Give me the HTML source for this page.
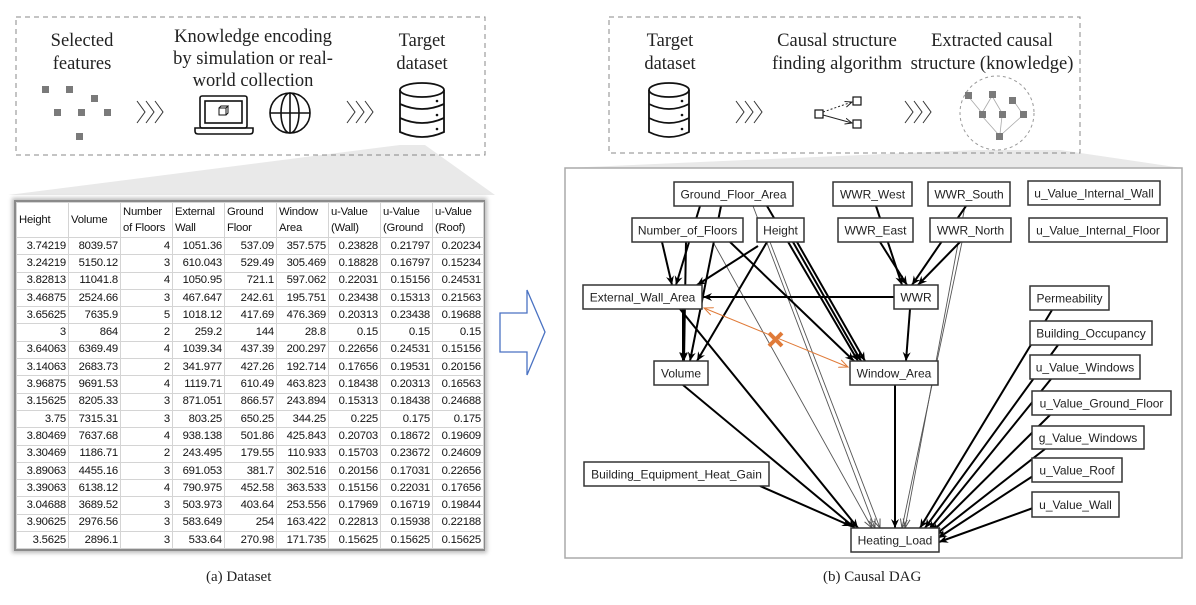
<!DOCTYPE html>
<html><head><meta charset="utf-8"><style>
body{margin:0;background:#fff;width:1196px;height:605px;overflow:hidden;position:relative;font-family:"Liberation Sans",sans-serif}
svg{position:absolute;left:0;top:0}
.tbl{position:absolute;left:14px;top:200px;width:467px;border:2px solid #8a8a8a;box-shadow:0 0 4px 2px #bbb;background:#fff}
table{border-collapse:collapse;table-layout:fixed;width:467px;font-family:"Liberation Sans",sans-serif;font-size:11.3px;color:#111}
td{border:1px solid #d4d4d4;height:16.3px;padding:0 2px;text-align:right;white-space:nowrap;overflow:hidden;line-height:15px;letter-spacing:-0.2px}
tr.h td{height:34px;text-align:left;vertical-align:middle;line-height:16px;white-space:normal;word-break:normal}
.cap{position:absolute;font-family:"Liberation Serif",serif;font-size:15px;color:#222}
</style></head><body>
<svg width="1196" height="605" viewBox="0 0 1196 605" xmlns="http://www.w3.org/2000/svg">
<defs>
<marker id="a" markerWidth="10" markerHeight="10" refX="9" refY="5" orient="auto" markerUnits="userSpaceOnUse"><path d="M0,1 L9,5 L0,9 L3,5 Z" fill="#000"/></marker>
<marker id="g" markerWidth="10" markerHeight="10" refX="9" refY="5" orient="auto" markerUnits="userSpaceOnUse"><path d="M0,1.5 L9,5 L0,8.5" fill="none" stroke="#555"/></marker>
<marker id="o" markerWidth="10" markerHeight="10" refX="9" refY="5" orient="auto-start-reverse" markerUnits="userSpaceOnUse"><path d="M0,1 L9,5 L0,9" fill="none" stroke="#e07b39" stroke-width="1"/></marker>
<marker id="s" markerWidth="8" markerHeight="8" refX="7" refY="4" orient="auto" markerUnits="userSpaceOnUse"><path d="M0,1 L7,4 L0,7" fill="none" stroke="#222"/></marker>
</defs>
<polygon points="400,145 425,145 495,195 8,195" fill="#e9e9e9"/>
<polygon points="975,150 1060,150 1182,168 565,168" fill="#e9e9e9"/>
<rect x="16" y="17" width="469" height="138" fill="none" stroke="#888" stroke-dasharray="5,4"/>
<rect x="609" y="17" width="471" height="136" fill="none" stroke="#888" stroke-dasharray="5,4"/>
<g font-family="Liberation Serif,serif" font-size="18.5" fill="#222" text-anchor="middle">
<text x="82" y="46">Selected</text><text x="82" y="69">features</text>
<text x="253" y="42">Knowledge encoding</text><text x="253" y="64">by simulation or real-</text><text x="253" y="86">world collection</text>
<text x="422" y="46">Target</text><text x="422" y="69">dataset</text>
<text x="670" y="46">Target</text><text x="670" y="69">dataset</text>
<text x="837" y="46">Causal structure</text><text x="837" y="69">finding algorithm</text>
<text x="992" y="46">Extracted causal</text><text x="992" y="69">structure (knowledge)</text>
</g>
<g fill="#7a7a7a">
<rect x="42" y="86" width="7" height="7"/><rect x="66" y="86" width="7" height="7"/><rect x="91" y="95" width="7" height="7"/>
<rect x="54" y="109" width="7" height="7"/><rect x="78" y="109" width="7" height="7"/><rect x="104" y="109" width="7" height="7"/>
<rect x="76" y="133" width="7" height="7"/>
</g>
<g fill="none" stroke="#333" stroke-width="1">
<path d="M137,101 l8,11 l-8,11 M146,101 l8,11 l-8,11 M155,101 l8,11 l-8,11"/>
<path d="M347,101 l8,11 l-8,11 M356,101 l8,11 l-8,11 M365,101 l8,11 l-8,11"/>
<path d="M736,101 l8,11 l-8,11 M745,101 l8,11 l-8,11 M754,101 l8,11 l-8,11"/>
<path d="M905,101 l8,11 l-8,11 M914,101 l8,11 l-8,11 M923,101 l8,11 l-8,11"/>
</g>
<g fill="none" stroke="#111" stroke-width="1.6">
<rect x="200" y="96" width="47" height="32" rx="2"/><rect x="205" y="101" width="37" height="22"/>
<path d="M195,128 h58 v3 q0,3 -3,3 h-52 q-3,0 -3,-3 z"/>
<path d="M219,108 h7 v7 h-7 z M219,108 l2,-2 h7 l-2,2 M228,106 v7 l-2,2" stroke-width="1"/>
</g>
<g fill="none" stroke="#111" stroke-width="1.6">
<circle cx="290" cy="113" r="20"/><ellipse cx="290" cy="113" rx="9" ry="20"/>
<line x1="290" y1="93" x2="290" y2="133"/><line x1="270" y1="113" x2="310" y2="113"/>
</g>
<g fill="#fff" stroke="#111" stroke-width="1.8">
<path d="M400,90 v42 q22,10 44,0 v-42"/><ellipse cx="422" cy="90" rx="22" ry="7"/>
<path d="M400,104 q22,10 44,0 M400,118 q22,10 44,0" fill="none"/>
<path d="M649,90 v42 q20,10 40,0 v-42"/><ellipse cx="669" cy="90" rx="20" ry="7"/>
<path d="M649,104 q20,10 40,0 M649,118 q20,10 40,0" fill="none"/>
</g>
<g fill="#111"><circle cx="437" cy="101" r="1.3"/><circle cx="437" cy="115" r="1.3"/><circle cx="437" cy="129" r="1.3"/>
<circle cx="682" cy="101" r="1.3"/><circle cx="682" cy="115" r="1.3"/><circle cx="682" cy="129" r="1.3"/></g>
<g fill="#fff" stroke="#111" stroke-width="1.2">
<rect x="815" y="110" width="8" height="8"/><rect x="853" y="97" width="8" height="8"/><rect x="853" y="120" width="8" height="8"/>
</g>
<line x1="823" y1="112" x2="852" y2="102" stroke="#222" stroke-dasharray="2,2" marker-end="url(#s)"/>
<line x1="823" y1="115" x2="852" y2="123" stroke="#222" marker-end="url(#s)"/>
<circle cx="997" cy="113" r="37" fill="none" stroke="#999" stroke-dasharray="3,3"/>
<g stroke="#aaa" stroke-width="0.8"><line x1="968" y1="96" x2="982" y2="113"/><line x1="992" y1="96" x2="982" y2="113"/><line x1="992" y1="96" x2="1002" y2="113"/><line x1="1013" y1="100" x2="1022" y2="113"/><line x1="1002" y1="116" x2="1000" y2="134"/><line x1="982" y1="116" x2="998" y2="134"/><line x1="1022" y1="116" x2="1002" y2="134"/></g>
<g fill="#7a7a7a"><rect x="965" y="92" width="7" height="7"/><rect x="989" y="91" width="7" height="7"/><rect x="1009" y="97" width="7" height="7"/>
<rect x="979" y="111" width="7" height="7"/><rect x="999" y="111" width="7" height="7"/><rect x="1020" y="111" width="7" height="7"/><rect x="996" y="133" width="7" height="7"/></g>
<path d="M500,313 h27 v-23 l18,42 l-18,43 v-23 h-27 z" fill="#fff" stroke="#4a72c2" stroke-width="1.3"/>
<rect x="565" y="168" width="617" height="390" fill="#fff" stroke="#aaa" stroke-width="1.5"/>
<g stroke="#555" stroke-width="0.9" marker-end="url(#g)">
<line x1="753" y1="206" x2="875" y2="528"/>
<line x1="713" y1="242" x2="872" y2="528"/>
<line x1="770" y1="242" x2="880" y2="528"/>
<line x1="965" y1="206" x2="905" y2="528"/>
<line x1="962" y1="242" x2="902" y2="528"/>
</g>
<g stroke="#000" stroke-width="2" marker-end="url(#a)">
<line x1="700" y1="206" x2="676" y2="285"/>
<line x1="721" y1="206" x2="690" y2="361"/>
<line x1="767" y1="206" x2="858" y2="361"/>
<line x1="662" y1="242" x2="672" y2="285"/>
<line x1="686" y1="242" x2="684" y2="361"/>
<line x1="730" y1="242" x2="854" y2="361"/>
<line x1="758" y1="246" x2="697" y2="285"/>
<line x1="767" y1="242" x2="697" y2="361"/>
<line x1="793" y1="242" x2="861" y2="361"/>
<line x1="797" y1="242" x2="865" y2="361"/>
<line x1="894" y1="297" x2="703" y2="297"/>
<line x1="876" y1="206" x2="902" y2="285"/>
<line x1="880" y1="242" x2="907" y2="285"/>
<line x1="966" y1="206" x2="912" y2="285"/>
<line x1="960" y1="242" x2="918" y2="285"/>
<line x1="910" y1="309" x2="906" y2="361"/>
<line x1="683" y1="309" x2="683" y2="361"/>
<line x1="680" y1="309" x2="858" y2="528"/>
<line x1="683" y1="385" x2="855" y2="528"/>
<line x1="895" y1="385" x2="895" y2="528"/>
<line x1="760" y1="486" x2="851" y2="526"/>
<line x1="1052" y1="310" x2="920" y2="528"/>
<line x1="1058" y1="345" x2="925" y2="528"/>
<line x1="1051" y1="379" x2="929" y2="530"/>
<line x1="1050" y1="415" x2="932" y2="532"/>
<line x1="1045" y1="449" x2="935" y2="535"/>
<line x1="1033" y1="476" x2="938" y2="538"/>
<line x1="1033" y1="508" x2="939" y2="542"/>
</g>
<line x1="704" y1="308" x2="848" y2="367" stroke="#e07b39" stroke-width="1" marker-start="url(#o)" marker-end="url(#o)"/>
<g stroke="#e07b39" stroke-width="4"><line x1="769" y1="333" x2="782" y2="346"/><line x1="782" y1="333" x2="769" y2="346"/></g>
<g fill="#fff" stroke="#333" stroke-width="1.5">
<rect x="674" y="182" width="119" height="24"/>
<rect x="833" y="182" width="79" height="24"/>
<rect x="928" y="182" width="82" height="24"/>
<rect x="1028" y="181" width="132" height="24"/>
<rect x="632" y="218" width="111" height="24"/>
<rect x="757" y="218" width="47" height="24"/>
<rect x="838" y="218" width="75" height="24"/>
<rect x="930" y="218" width="81" height="24"/>
<rect x="1029" y="218" width="138" height="24"/>
<rect x="583" y="285" width="119" height="24"/>
<rect x="894" y="285" width="44" height="24"/>
<rect x="1030" y="286" width="79" height="24"/>
<rect x="1030" y="321" width="122" height="24"/>
<rect x="654" y="361" width="54" height="24"/>
<rect x="850" y="361" width="88" height="24"/>
<rect x="1030" y="355" width="110" height="24"/>
<rect x="1032" y="391" width="139" height="24"/>
<rect x="1032" y="426" width="112" height="23"/>
<rect x="584" y="462" width="185" height="24"/>
<rect x="1032" y="458" width="90" height="24"/>
<rect x="1032" y="492" width="87" height="25"/>
<rect x="851" y="528" width="88" height="24"/>
</g>
<g font-family="Liberation Sans,sans-serif" font-size="12" fill="#222" text-anchor="middle">
<text x="733.5" y="198.5">Ground_Floor_Area</text>
<text x="872.5" y="198.5">WWR_West</text>
<text x="969" y="198.5">WWR_South</text>
<text x="1094" y="197.5">u_Value_Internal_Wall</text>
<text x="687.5" y="234.5">Number_of_Floors</text>
<text x="780.5" y="234.5">Height</text>
<text x="875.5" y="234.5">WWR_East</text>
<text x="970.5" y="234.5">WWR_North</text>
<text x="1098" y="234.5">u_Value_Internal_Floor</text>
<text x="642.5" y="301.5">External_Wall_Area</text>
<text x="916" y="301.5">WWR</text>
<text x="1069.5" y="302.5">Permeability</text>
<text x="1091" y="337.5">Building_Occupancy</text>
<text x="681" y="377.5">Volume</text>
<text x="894" y="377.5">Window_Area</text>
<text x="1085" y="371.5">u_Value_Windows</text>
<text x="1101.5" y="407.5">u_Value_Ground_Floor</text>
<text x="1088" y="442">g_Value_Windows</text>
<text x="676.5" y="478.5">Building_Equipment_Heat_Gain</text>
<text x="1077" y="474.5">u_Value_Roof</text>
<text x="1075.5" y="509">u_Value_Wall</text>
<text x="895" y="544.5">Heating_Load</text>
</g>
</svg>
<div class="tbl"><table>
<colgroup><col style="width:52px"><col style="width:52px"><col style="width:52px"><col style="width:52px"><col style="width:52px"><col style="width:52px"><col style="width:52px"><col style="width:52px"><col style="width:51px"></colgroup>
<tr class="h"><td>Height</td><td>Volume</td><td>Number of Floors</td><td>External Wall</td><td>Ground Floor</td><td>Window Area</td><td>u-Value (Wall)</td><td>u-Value (Ground</td><td>u-Value (Roof)</td></tr>
<tr><td>3.74219</td><td>8039.57</td><td>4</td><td>1051.36</td><td>537.09</td><td>357.575</td><td>0.23828</td><td>0.21797</td><td>0.20234</td></tr>
<tr><td>3.24219</td><td>5150.12</td><td>3</td><td>610.043</td><td>529.49</td><td>305.469</td><td>0.18828</td><td>0.16797</td><td>0.15234</td></tr>
<tr><td>3.82813</td><td>11041.8</td><td>4</td><td>1050.95</td><td>721.1</td><td>597.062</td><td>0.22031</td><td>0.15156</td><td>0.24531</td></tr>
<tr><td>3.46875</td><td>2524.66</td><td>3</td><td>467.647</td><td>242.61</td><td>195.751</td><td>0.23438</td><td>0.15313</td><td>0.21563</td></tr>
<tr><td>3.65625</td><td>7635.9</td><td>5</td><td>1018.12</td><td>417.69</td><td>476.369</td><td>0.20313</td><td>0.23438</td><td>0.19688</td></tr>
<tr><td>3</td><td>864</td><td>2</td><td>259.2</td><td>144</td><td>28.8</td><td>0.15</td><td>0.15</td><td>0.15</td></tr>
<tr><td>3.64063</td><td>6369.49</td><td>4</td><td>1039.34</td><td>437.39</td><td>200.297</td><td>0.22656</td><td>0.24531</td><td>0.15156</td></tr>
<tr><td>3.14063</td><td>2683.73</td><td>2</td><td>341.977</td><td>427.26</td><td>192.714</td><td>0.17656</td><td>0.19531</td><td>0.20156</td></tr>
<tr><td>3.96875</td><td>9691.53</td><td>4</td><td>1119.71</td><td>610.49</td><td>463.823</td><td>0.18438</td><td>0.20313</td><td>0.16563</td></tr>
<tr><td>3.15625</td><td>8205.33</td><td>3</td><td>871.051</td><td>866.57</td><td>243.894</td><td>0.15313</td><td>0.18438</td><td>0.24688</td></tr>
<tr><td>3.75</td><td>7315.31</td><td>3</td><td>803.25</td><td>650.25</td><td>344.25</td><td>0.225</td><td>0.175</td><td>0.175</td></tr>
<tr><td>3.80469</td><td>7637.68</td><td>4</td><td>938.138</td><td>501.86</td><td>425.843</td><td>0.20703</td><td>0.18672</td><td>0.19609</td></tr>
<tr><td>3.30469</td><td>1186.71</td><td>2</td><td>243.495</td><td>179.55</td><td>110.933</td><td>0.15703</td><td>0.23672</td><td>0.24609</td></tr>
<tr><td>3.89063</td><td>4455.16</td><td>3</td><td>691.053</td><td>381.7</td><td>302.516</td><td>0.20156</td><td>0.17031</td><td>0.22656</td></tr>
<tr><td>3.39063</td><td>6138.12</td><td>4</td><td>790.975</td><td>452.58</td><td>363.533</td><td>0.15156</td><td>0.22031</td><td>0.17656</td></tr>
<tr><td>3.04688</td><td>3689.52</td><td>3</td><td>503.973</td><td>403.64</td><td>253.556</td><td>0.17969</td><td>0.16719</td><td>0.19844</td></tr>
<tr><td>3.90625</td><td>2976.56</td><td>3</td><td>583.649</td><td>254</td><td>163.422</td><td>0.22813</td><td>0.15938</td><td>0.22188</td></tr>
<tr><td>3.5625</td><td>2896.1</td><td>3</td><td>533.64</td><td>270.98</td><td>171.735</td><td>0.15625</td><td>0.15625</td><td>0.15625</td></tr>
</table></div>
<div class="cap" style="left:206px;top:569px">(a) Dataset</div>
<div class="cap" style="left:823px;top:569px">(b) Causal DAG</div>
</body></html>
